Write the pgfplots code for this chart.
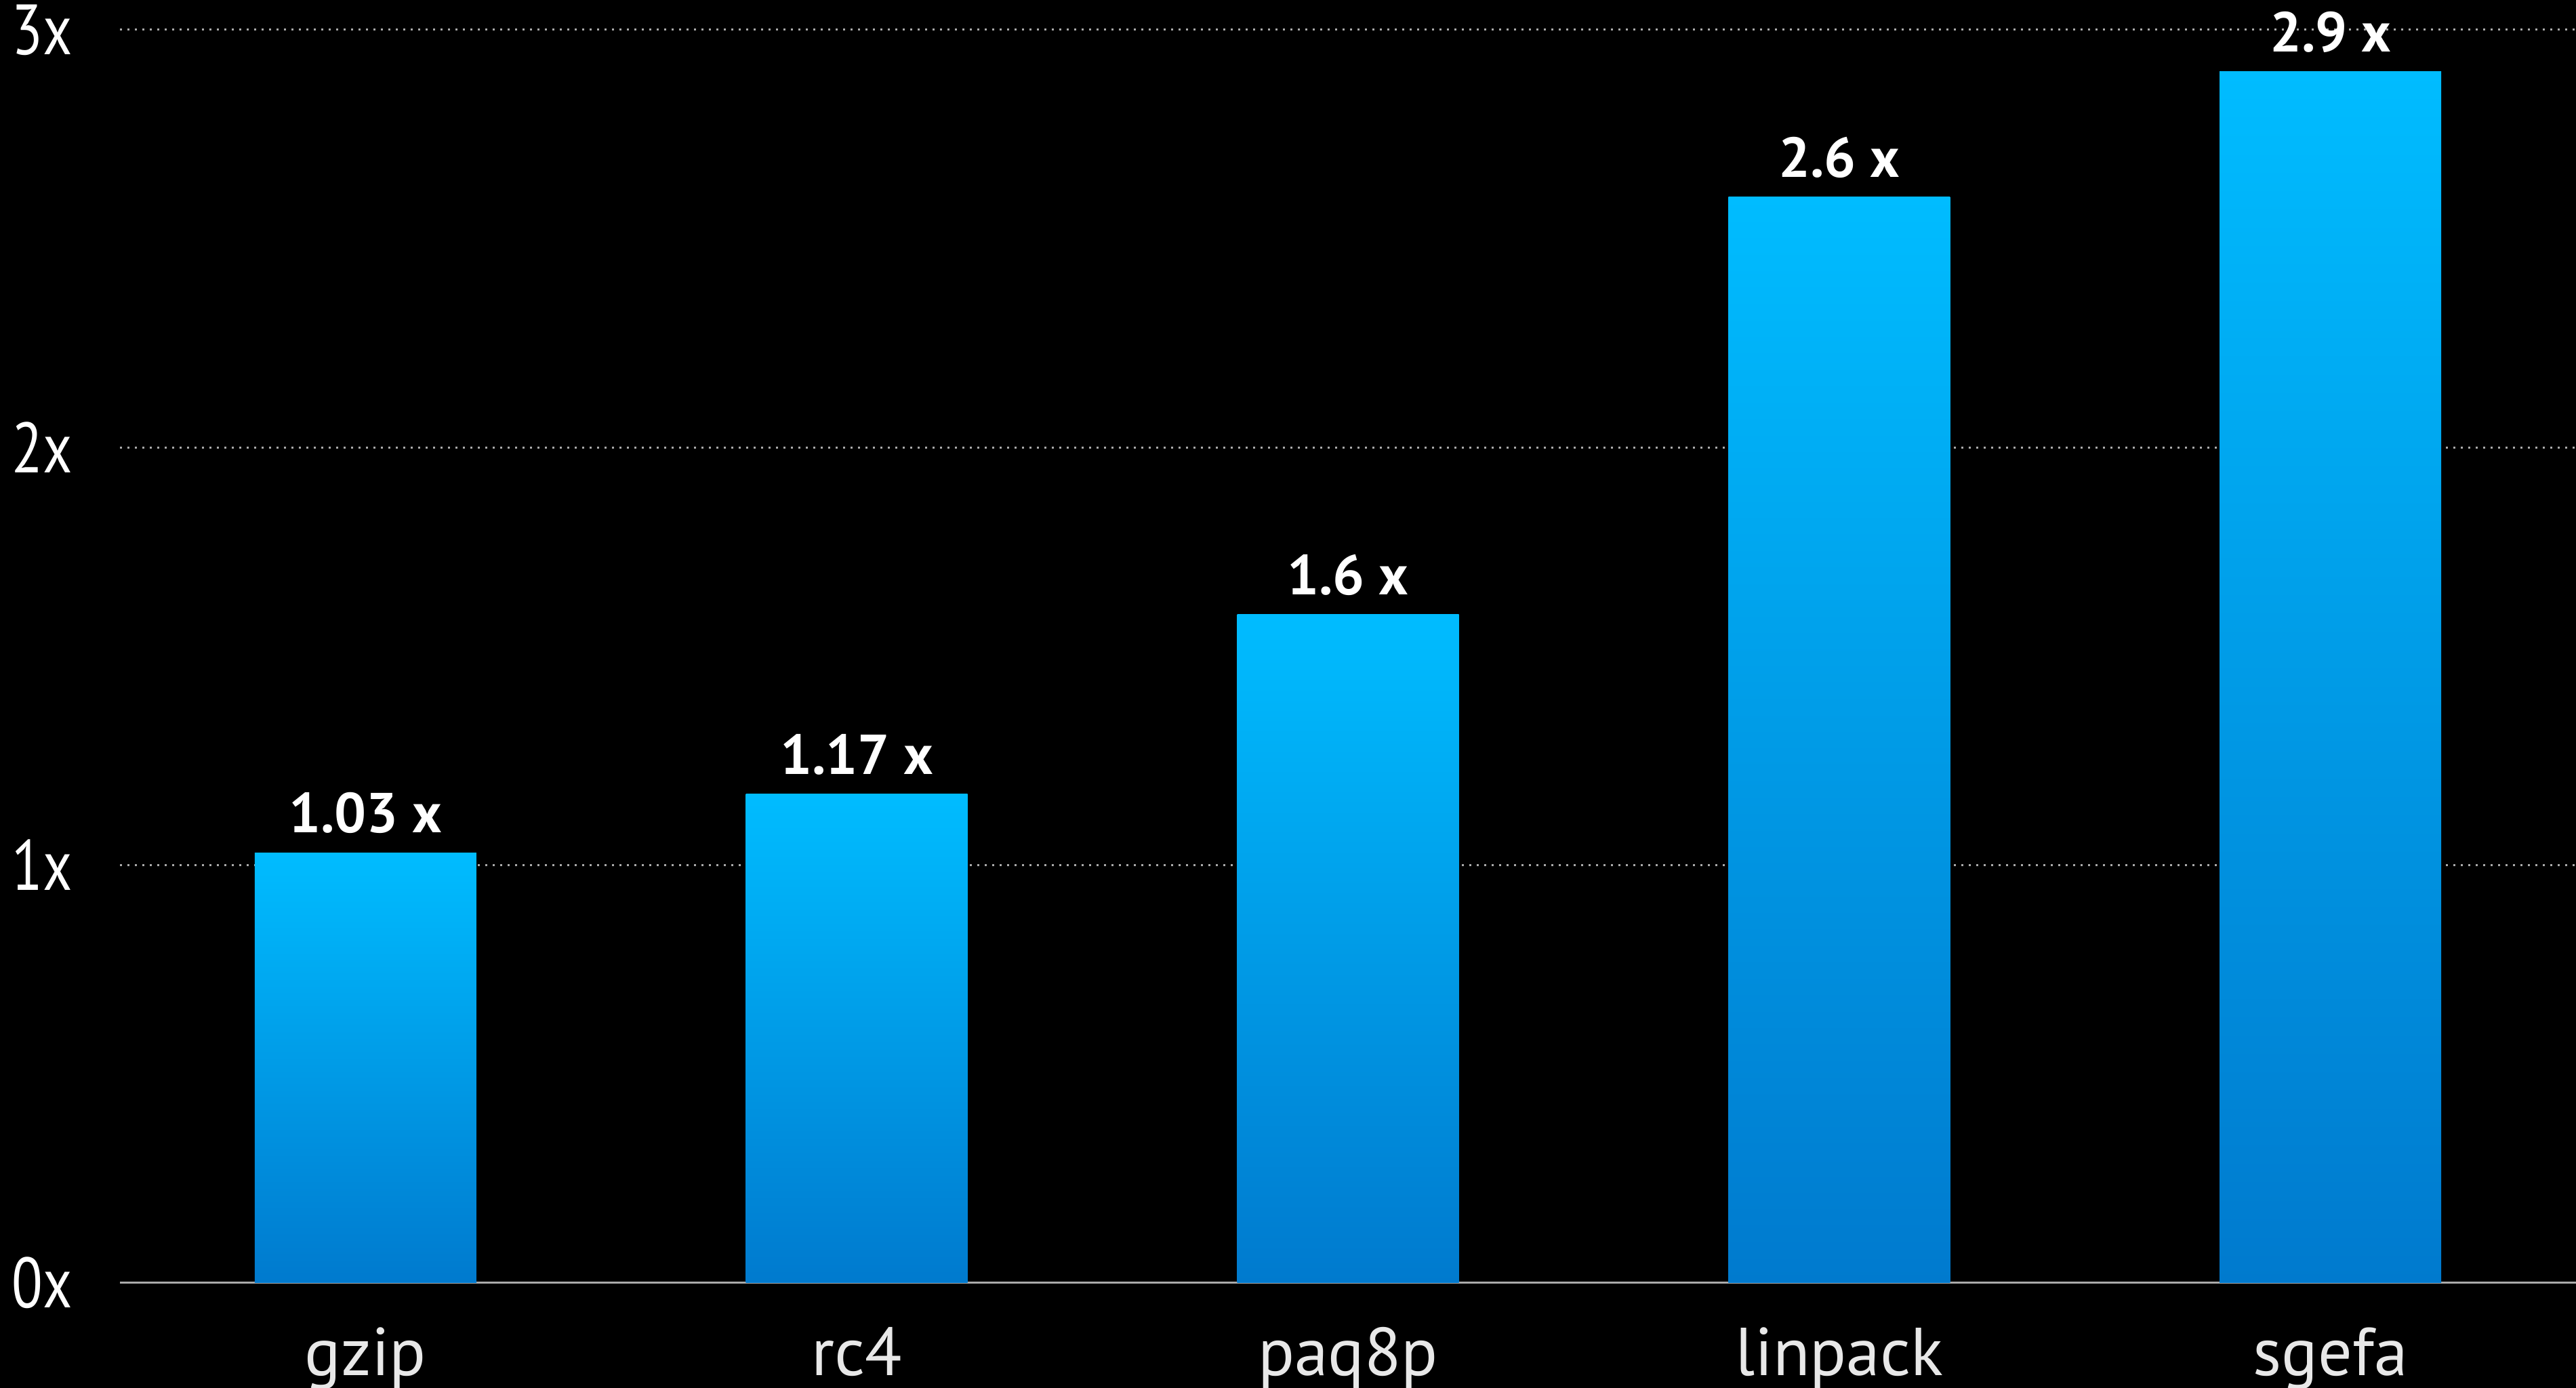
\documentclass[border=0pt]{standalone}
\usepackage{pgfplots}
\pgfplotsset{compat=1.18}
\usepackage{fontspec}
\setmainfont{PT Sans}
\definecolor{barTop}{RGB}{0,188,255}
\definecolor{barBot}{RGB}{0,122,206}
\definecolor{xlab}{RGB}{232,232,232}
\definecolor{gridc}{RGB}{170,170,170}
\pgfplotsset{
  mybar/.style={ybar, bar shift=0pt, bar width=32.7pt, draw=none,
    top color=barTop, bottom color=barBot,
    point meta=explicit symbolic, nodes near coords,
    nodes near coords style={anchor=south, inner sep=0pt, yshift=2.6pt, text=white,
      font=\bfseries\fontsize{8.3}{10}\selectfont}},
}
\begin{document}
\begin{tikzpicture}
\path[use as bounding box, fill=black] (0,0) rectangle (380.1pt,204.8pt);
\begin{axis}[
  at={(17.7pt,15.5pt)}, anchor=south west,
  width=362.4pt, height=184.9pt, scale only axis,
  xmin=-0.5, xmax=4.5, ymin=0, ymax=3,
  clip=false,
  axis x line*=bottom, axis y line*=left,
  x axis line style={draw=gridc, line width=0.3pt},
  y axis line style={draw=none},
  tick style={draw=none},
  xtick={0,1,2,3,4},
  xticklabels={gzip,rc4,paq8p,linpack,sgefa},
  ytick={0,1,2,3},
  yticklabels={\scalebox{0.8}[1]{0x},\scalebox{0.8}[1]{1x},\scalebox{0.8}[1]{2x},\scalebox{0.8}[1]{3x}},
  xticklabel style={anchor=north, inner sep=0pt, yshift=-6pt, text=xlab,
    font=\fontsize{10}{12}\selectfont, text height=0.75em, text depth=0.25em},
  yticklabel style={anchor=east, inner sep=0pt, xshift=-6.8pt, text=white,
    font=\fontsize{10.5}{12}\selectfont},
  ymajorgrids,
  major grid style={draw=gridc, line width=0.3pt, dash pattern=on 0.25pt off 0.85pt},
]
\addplot[mybar] coordinates {(0,1.03) [1.03 x]};
\addplot[mybar] coordinates {(1,1.17) [1.17 x]};
\addplot[mybar] coordinates {(2,1.6) [1.6 x]};
\addplot[mybar] coordinates {(3,2.6) [2.6 x]};
\addplot[mybar] coordinates {(4,2.9) [2.9 x]};
\end{axis}
\end{tikzpicture}
\end{document}
